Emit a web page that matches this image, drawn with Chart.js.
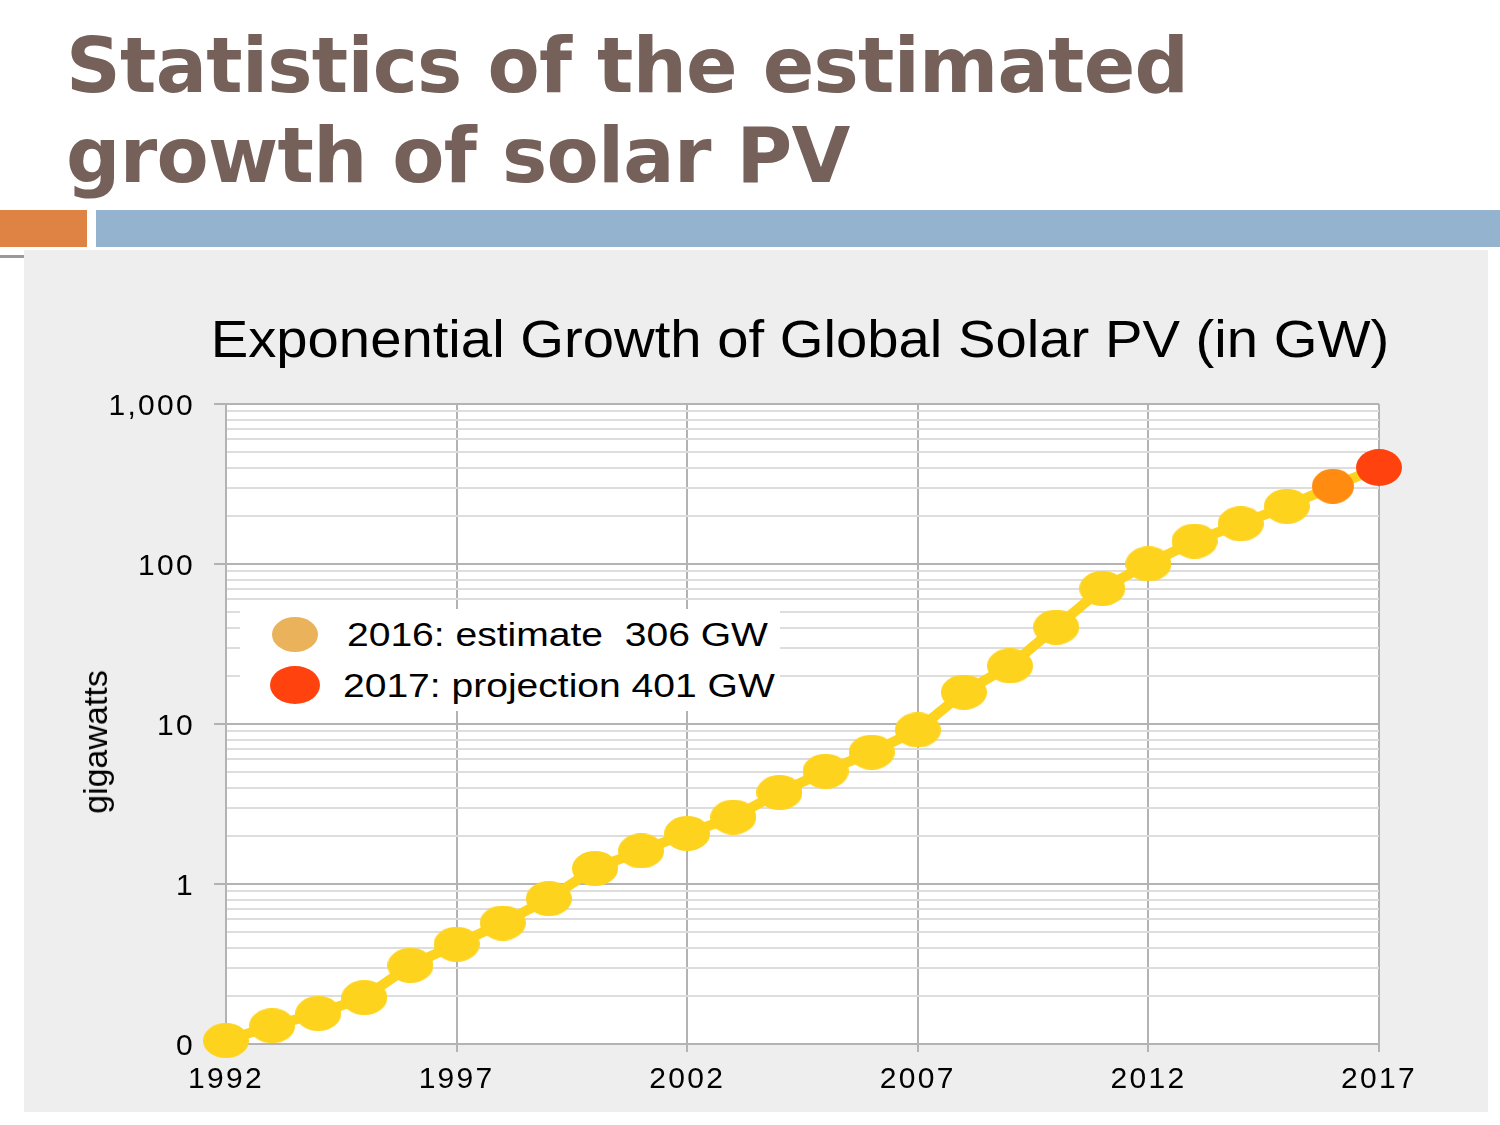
<!DOCTYPE html>
<html>
<head>
<meta charset="utf-8">
<title>Statistics of the estimated growth of solar PV</title>
<script src="https://cdn.jsdelivr.net/npm/chart.js@4.4.1/dist/chart.umd.min.js"></script>
<style>
  body { margin: 0; width: 1500px; height: 1125px; background: #fff; position: relative; overflow: hidden; font-family: 'Liberation Sans', Arial, sans-serif; }
  .slide-title { position: absolute; left: 66px; top: 21px; margin: 0; font-family: 'DejaVu Sans', sans-serif; font-weight: bold; font-size: 76px; line-height: 90px; letter-spacing: -0.7px; color: #76615a; white-space: nowrap; }
  .bar-orange { position: absolute; left: 0; top: 210px; width: 87px; height: 37px; background: #de8344; }
  .bar-blue { position: absolute; left: 96px; top: 210px; width: 1404px; height: 37px; background: #93b3cf; }
  .rule { position: absolute; left: 0; top: 255px; width: 24px; height: 3px; background: #9a9a9a; }
  .panel { position: absolute; left: 24px; top: 250px; width: 1464px; height: 862px; background: #eeeeee; }
  #solarChart { position: absolute; left: 24px; top: 250px; }
  .chart-title { position: absolute; left: 200px; top: 311px; width: 1200px; text-align: center; font-size: 51px; line-height: 57px; transform: scaleX(1.103); color: #000; white-space: nowrap; }
  .y-title { position: absolute; left: 95px; top: 742px; transform: translate(-50%, -50%) rotate(-90deg); font-size: 34px; line-height: 36px; color: #000; white-space: nowrap; }
  .legend { position: absolute; left: 240px; top: 609px; width: 540px; height: 102px; background: #fff; }
  .legend-row { position: absolute; left: 0; height: 40px; font-size: 34px; line-height: 40px; color: #000; white-space: pre; }
  .legend-row span.mark { position: absolute; border-radius: 50%; }
  .legend-row span.txt { position: absolute; transform: scaleX(1.148); transform-origin: 0 50%; }
</style>
</head>
<body>
<h1 class="slide-title">Statistics of the estimated<br>growth of solar PV</h1>
<div class="bar-orange"></div>
<div class="bar-blue"></div>
<div class="rule"></div>
<div class="panel"></div>
<canvas id="solarChart" width="1464" height="862"></canvas>
<div class="chart-title">Exponential Growth of Global Solar PV (in GW)</div>
<div class="y-title">gigawatts</div>
<div class="legend" id="legend"></div>
<script>
// data
const years = [1992, 1993, 1994, 1995, 1996, 1997, 1998, 1999, 2000, 2001, 2002, 2003, 2004,
  2005, 2006, 2007, 2008, 2009, 2010, 2011, 2012, 2013, 2014, 2015, 2016, 2017];
const capacityGW = [0.105, 0.13, 0.155, 0.195, 0.31, 0.42, 0.57, 0.81, 1.25, 1.61, 2.07, 2.62, 3.73,
  5.06, 6.66, 9.18, 15.8, 23.1, 40.3, 70.3, 100.1, 138.9, 178.4, 229.3, 306, 401];
const xTickYears = [1992, 1997, 2002, 2007, 2012, 2017];
const yTickValues = [0.1, 1, 10, 100, 1000];
const yTickLabels = ['0', '1', '10', '100', '1,000'];
const legendLabels = ['2016: estimate  306 GW', '2017: projection 401 GW'];

const YELLOW = '#fdd31e';
const ORANGE = '#ff8c10';
const RED = '#ff420e';
const GRID_MAJOR = '#b3b3b3';
const GRID_MINOR = '#dddddd';

function makeEllipse(color, w, h) {
  const c = document.createElement('canvas');
  c.width = w;
  c.height = h;
  const g = c.getContext('2d');
  g.fillStyle = color;
  g.beginPath();
  g.ellipse(w / 2, h / 2, w / 2, h / 2, 0, 0, Math.PI * 2);
  g.fill();
  return c;
}

const dotYellow = makeEllipse(YELLOW, 46, 35);
const dotOrange = makeEllipse(ORANGE, 42, 35);
const dotRed = makeEllipse(RED, 46, 37);
const pointStyles = years.map(y => y === 2017 ? dotRed : (y === 2016 ? dotOrange : dotYellow));

// legend box
const legendMarks = [{color: '#ebb25c', w: 46, h: 35, textLeft: 107}, {color: RED, w: 50, h: 38, textLeft: 103}];
const legendEl = document.getElementById('legend');
legendLabels.forEach((label, i) => {
  const row = document.createElement('div');
  row.className = 'legend-row';
  row.style.top = (i === 0 ? 5 : 56) + 'px';
  row.style.width = '540px';
  const m = legendMarks[i];
  const mark = document.createElement('span');
  mark.className = 'mark';
  mark.style.background = m.color;
  mark.style.width = m.w + 'px';
  mark.style.height = m.h + 'px';
  mark.style.left = (55 - m.w / 2) + 'px';
  mark.style.top = (20 - m.h / 2) + 'px';
  const text = document.createElement('span');
  text.className = 'txt';
  text.style.left = m.textLeft + 'px';
  text.textContent = label;
  row.appendChild(mark);
  row.appendChild(text);
  legendEl.appendChild(row);
});

// white plot area, and the slightly spaced-out lettering of the original
const plotBackground = {
  id: 'plotBackground',
  beforeDraw(chart) {
    const {ctx, chartArea: a} = chart;
    ctx.save();
    ctx.fillStyle = '#ffffff';
    ctx.fillRect(a.left, a.top, a.right - a.left, a.bottom - a.top);
    ctx.restore();
    ctx.letterSpacing = '2.3px';
  }
};

const isMajor = v => yTickValues.includes(v);

const ctx = document.getElementById('solarChart').getContext('2d');
const solarChart = new Chart(ctx, {
  type: 'line',
  data: {
    datasets: [{
      label: 'Global solar PV (GW)',
      data: years.map((y, i) => ({x: y, y: capacityGW[i]})),
      borderColor: YELLOW,
      borderWidth: 10,
      tension: 0,
      pointStyle: pointStyles,
      clip: false
    }]
  },
  options: {
    responsive: false,
    devicePixelRatio: 1,
    animation: false,
    layout: {
      autoPadding: false,
      padding: {top: 154, right: 109, bottom: 0, left: 0}
    },
    plugins: {
      legend: {display: false},
      tooltip: {enabled: false},
      title: {display: false}
    },
    scales: {
      x: {
        type: 'linear',
        min: 1992,
        max: 2017,
        afterBuildTicks: scale => { scale.ticks = xTickYears.map(v => ({value: v})); },
        afterFit: scale => { scale.height = 68; },
        grid: {color: GRID_MAJOR, lineWidth: 2, tickLength: 8, tickColor: GRID_MAJOR},
        border: {display: false},
        ticks: {
          callback: v => String(v),
          font: {family: 'Liberation Sans', size: 30},
          color: '#000',
          padding: 10,
          maxRotation: 0,
          autoSkip: false
        }
      },
      y: {
        type: 'logarithmic',
        min: 0.1,
        max: 1000,
        afterBuildTicks: scale => {
          const ticks = [];
          for (let k = -1; k < 3; k++) {
            for (let m = 1; m < 10; m++) ticks.push({value: m === 1 ? yTickValues[k + 1] : m * Math.pow(10, k)});
          }
          ticks.push({value: 1000});
          scale.ticks = ticks;
        },
        afterFit: scale => { scale.width = 202; },
        grid: {
          color: c => isMajor(c.tick.value) ? GRID_MAJOR : GRID_MINOR,
          tickColor: c => isMajor(c.tick.value) ? GRID_MAJOR : 'rgba(0,0,0,0)',
          lineWidth: 2,
          tickLength: 12
        },
        border: {display: true, color: GRID_MAJOR, width: 2},
        ticks: {
          callback: v => isMajor(v) ? yTickLabels[yTickValues.indexOf(v)] : '',
          font: {family: 'Liberation Sans', size: 30},
          color: '#000',
          padding: 19,
          labelOffset: 3,
          autoSkip: false
        }
      }
    }
  },
  plugins: [plotBackground]
});
</script>
</body>
</html>
